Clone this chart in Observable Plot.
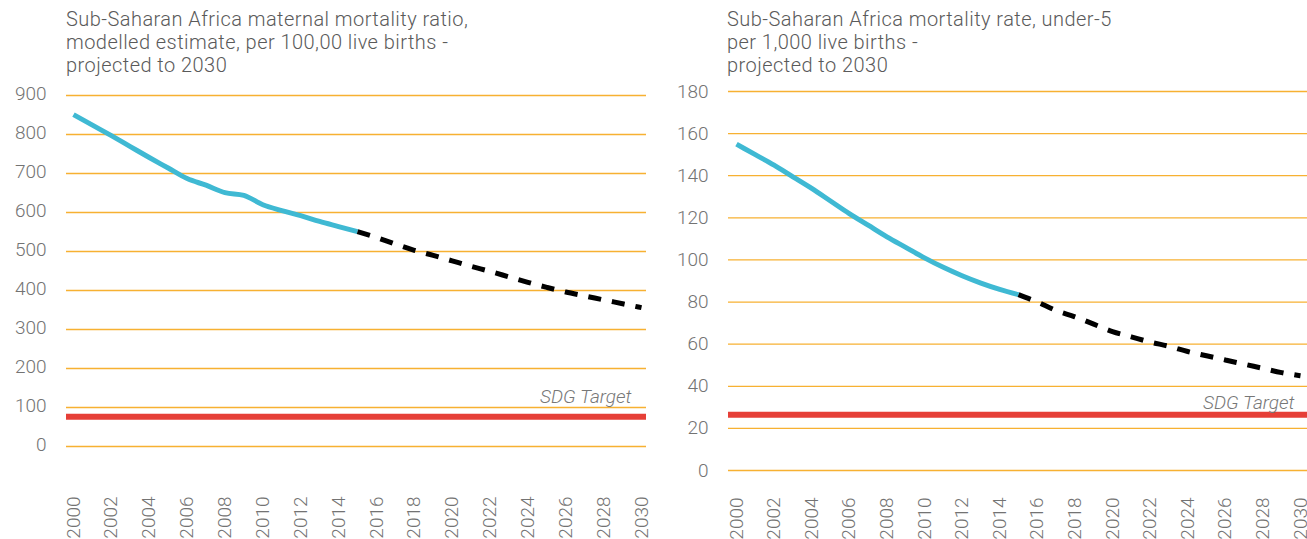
<!DOCTYPE html>
<html>
<head>
<meta charset="utf-8">
<script src="https://cdn.jsdelivr.net/npm/d3@7"></script>
<script src="https://cdn.jsdelivr.net/npm/@observablehq/plot@0.6"></script>
<style>
  html, body { margin: 0; padding: 0; background: #fff; }
  body { width: 1307px; height: 539px; position: relative; overflow: hidden; font-family: Roboto, "Noto Sans", sans-serif; }
  .title { position: absolute; top: 8px; font-size: 20px; font-weight: 300; letter-spacing: 0.45px; line-height: 23px; color: #5a5a5a; white-space: nowrap; }
  .chart { position: absolute; top: 0; }
</style>
</head>
<body>
<div class="title" style="left:66px">Sub-Saharan Africa maternal mortality ratio,<br>modelled estimate, per 100,00 live births -<br>projected to 2030</div>
<div class="title" style="left:727px">Sub-Saharan Africa mortality rate, under-5<br>per 1,000 live births -<br>projected to 2030</div>
<div id="left" class="chart" style="left:0px"></div>
<div id="right" class="chart" style="left:653px"></div>
<script>
// ---- Data ----
const yearTicks = [2000, 2002, 2004, 2006, 2008, 2010, 2012, 2014, 2016, 2018, 2020, 2022, 2024, 2026, 2028, 2030];

// Maternal mortality ratio (per 100,000 live births)
const mmrHistYears = [2000, 2001, 2002, 2003, 2004, 2005, 2006, 2007, 2008, 2009, 2010, 2011, 2012, 2013, 2014, 2015];
const mmrHistValues = [851, 824, 797, 769, 741, 714, 687, 670, 651, 644, 620, 605, 592, 577, 564, 551];
const mmrProjYears = [2015, 2016, 2017, 2018, 2019, 2020, 2021, 2022, 2023, 2024, 2025, 2026, 2027, 2028, 2029, 2030];
const mmrProjValues = [551, 536, 519, 503, 490, 476, 462, 449, 435, 421, 408, 396, 386, 376, 366, 356];
const mmrTarget = 76;
const mmrTicks = [0, 100, 200, 300, 400, 500, 600, 700, 800, 900];

// Under-5 mortality rate (per 1,000 live births)
const u5HistYears = [2000, 2001, 2002, 2003, 2004, 2005, 2006, 2007, 2008, 2009, 2010, 2011, 2012, 2013, 2014, 2015];
const u5HistValues = [155, 150, 145, 139.5, 134, 128, 122, 116.5, 111, 106, 101, 96.5, 92.5, 89, 86, 83.5];
const u5ProjYears = [2015, 2016, 2017, 2018, 2019, 2020, 2021, 2022, 2023, 2024, 2025, 2026, 2027, 2028, 2029, 2030];
const u5ProjValues = [83.5, 80, 76, 73, 69.5, 66, 63.5, 61, 59, 56.5, 54.5, 52.5, 50.5, 48.5, 46.5, 45];
const u5Target = 26.5;
const u5Ticks = [0, 20, 40, 60, 80, 100, 120, 140, 160, 180];

const targetLabel = "SDG Target";

// ---- Styles ----
const GRID = "#f7b132";
const BLUE = "#3fb9d3";
const RED = "#e63f37";
const TICK = "#737373";

function zip(xs, ys) { return xs.map((x, i) => ({year: x, value: ys[i]})); }

function makeChart(opts) {
  return Plot.plot({
    width: opts.width,
    height: 539,
    marginLeft: opts.marginLeft,
    marginRight: opts.marginRight,
    marginTop: opts.marginTop,
    marginBottom: opts.marginBottom,
    style: {fontFamily: "Roboto, 'Noto Sans', sans-serif", fontSize: "19px", fontWeight: 300, color: TICK, background: "transparent", overflow: "visible"},
    x: {domain: [2000, 2030], insetLeft: opts.insetLeft, insetRight: opts.insetRight, ticks: yearTicks, tickFormat: d => String(d)},
    y: {domain: opts.yDomain, ticks: opts.yTicks},
    marks: [
      Plot.ruleY(opts.yTicks, {stroke: GRID, strokeWidth: 1.3}),
      Plot.ruleY([opts.target], {stroke: RED, strokeWidth: 6}),
      Plot.text([targetLabel], {x: 2030, y: opts.target, text: d => d, textAnchor: "end", dx: opts.labelDx, dy: opts.labelDy, fontStyle: "italic", fontSize: 19, fill: "#777", fontWeight: 300, letterSpacing: "0.3px"}),
      Plot.line(opts.hist, {x: "year", y: "value", stroke: BLUE, strokeWidth: 5, curve: "monotone-x", strokeLinecap: "butt"}),
      Plot.line(opts.proj, {x: "year", y: "value", stroke: "#000", strokeWidth: 5, strokeDasharray: "13,11", curve: "monotone-x", strokeLinecap: "butt"}),
      Plot.axisY({ticks: opts.yTicks, tickSize: 0, tickPadding: 20, dy: opts.yDy, label: null, fill: TICK, fontSize: 19}),
      Plot.axisX({ticks: yearTicks, tickSize: 0, tickRotate: -90, tickPadding: opts.xPad, label: null, fill: TICK, fontSize: 19, tickFormat: d => String(d)})
    ]
  });
}

document.getElementById("left").append(makeChart({
  width: 653, marginLeft: 66, marginRight: 7, marginTop: 95, marginBottom: 93,
  insetLeft: 7, insetRight: 5, yDomain: [0, 900], yTicks: mmrTicks, target: mmrTarget,
  labelDx: -10, labelDy: -20, xPad: 50, yDy: -2,
  hist: zip(mmrHistYears, mmrHistValues), proj: zip(mmrProjYears, mmrProjValues)
}));

document.getElementById("right").append(makeChart({
  width: 654, marginLeft: 75, marginRight: 0, marginTop: 91, marginBottom: 69,
  insetLeft: 8, insetRight: 7, yDomain: [0, 180], yTicks: u5Ticks, target: u5Target,
  labelDx: -6, labelDy: -12, xPad: 27, yDy: 0,
  hist: zip(u5HistYears, u5HistValues), proj: zip(u5ProjYears, u5ProjValues)
}));
</script>
</body>
</html>
